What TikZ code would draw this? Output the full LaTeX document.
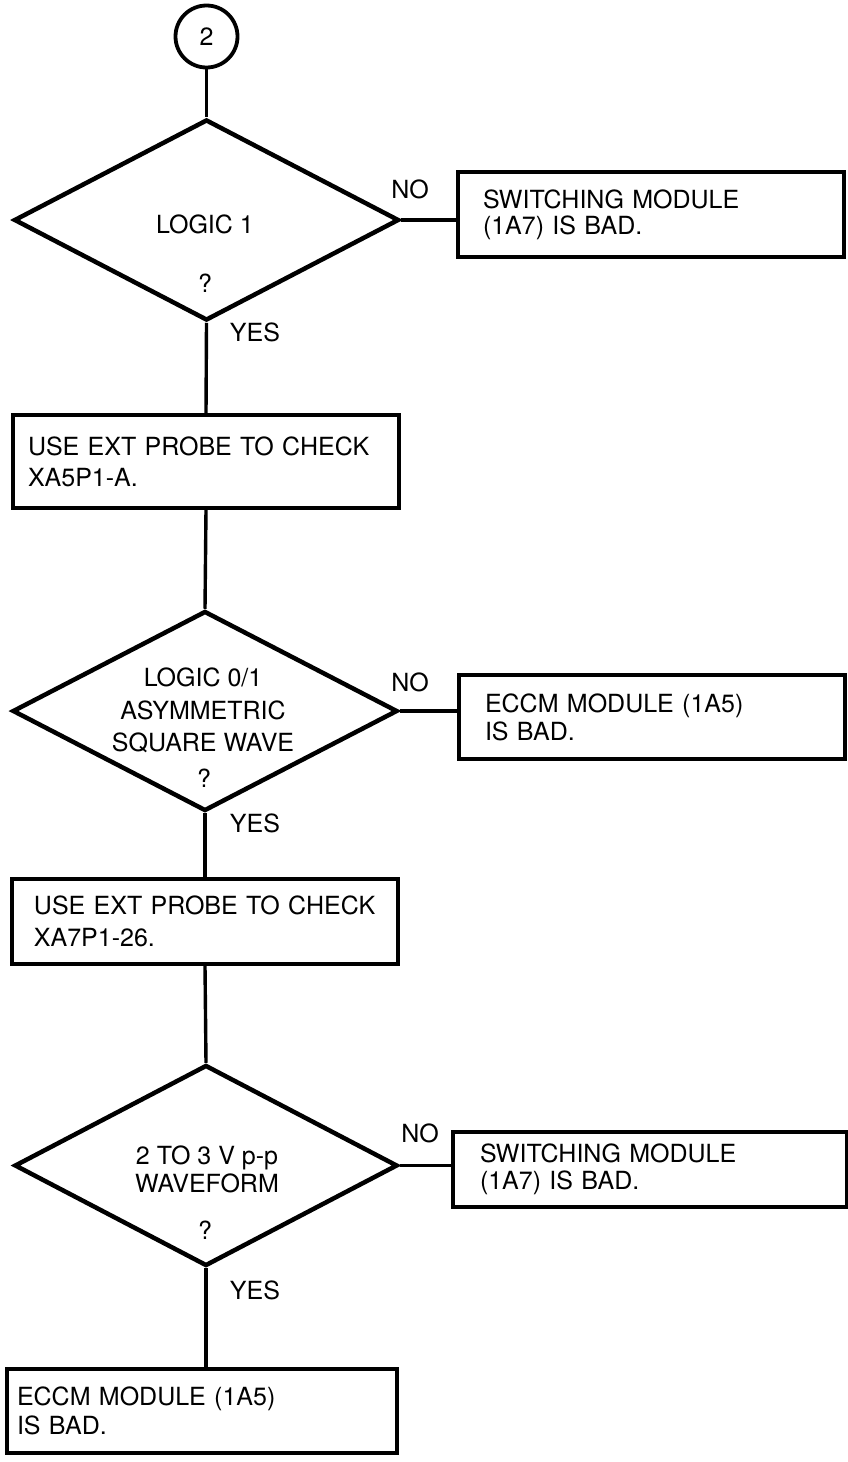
\documentclass[tikz,border=0pt]{standalone}
\usepackage{fontspec}
\setmainfont{TeX Gyre Heros}
\usetikzlibrary{shapes,positioning,calc}

\begin{document}
\begin{tikzpicture}[x=1pt, y=-1pt,
    every node/.style={font=\fontsize{25}{30}\selectfont},
    connector/.style={draw, circle, line width=3.8pt, minimum size=62pt, inner sep=0pt},
    decision/.style={draw, diamond, line width=4.5pt, inner sep=0pt, minimum width=385pt, minimum height=201pt},
    result/.style={draw, rectangle, line width=3.4pt, align=left, inner ysep=0pt, font=\fontsize{25}{#1}\selectfont},
    lbl/.style={inner sep=0pt, text height=18pt, text depth=0pt},
    multi/.style={inner sep=0pt, align=center, font=\fontsize{25}{#1}\selectfont},
    link/.style={line width=3.4pt}]
    \useasboundingbox (0,0) rectangle (848,1462);

    % Entry point
    \node[connector] (c2) at (206.5,36.5) {};
    \node[lbl] (c2txt) at (206.5,36) {2};

    % First test
    \node[decision] (d1) at (206.5,220) {};
    \node[lbl] (d1txt) at (205,224) {LOGIC 1};
    \node[lbl] (d1q) at (205,283) {?};
    \node[result=26, text width=336pt, inner xsep=25pt, minimum height=85pt] (sw1) at (651,214.5) {SWITCHING MODULE\\(1A7) IS BAD.};
    \node[result=31, text width=356pt, inner xsep=15pt, minimum height=93pt] (probe1) at (206,461.5) {USE EXT PROBE TO CHECK\\XA5P1-A.};

    % Second test
    \node[decision, minimum height=200pt] (d2) at (205,711) {};
    \node[multi=32.5] (d2txt) at (203,710.5) {LOGIC 0/1\\ASYMMETRIC\\SQUARE WAVE};
    \node[lbl] (d2q) at (204,778) {?};
    \node[result=28, text width=334pt, inner xsep=26pt, minimum height=84pt] (eccm1) at (652,717) {ECCM MODULE (1A5)\\IS BAD.};
    \node[result=32, text width=342pt, inner xsep=22pt, minimum height=85pt] (probe2) at (205,921.5) {USE EXT PROBE TO CHECK\\XA7P1-26.};

    % Third test
    \node[decision, minimum width=383pt] (d3) at (206,1165.5) {};
    \node[multi=28] (d3txt) at (207,1169) {2 TO 3 V p-p\\WAVEFORM};
    \node[lbl] (d3q) at (205,1230) {?};
    \node[result=27, text width=340pt, inner xsep=27pt, minimum height=75pt] (sw2) at (650,1169.5) {SWITCHING MODULE\\(1A7) IS BAD.};
    \node[result=29, text width=370pt, inner xsep=10pt, minimum height=84pt] (eccm2) at (202,1411) {ECCM MODULE (1A5)\\IS BAD.};

    % Branch labels
    \node[lbl] (no1) at (410,189) {NO};
    \node[lbl] (yes1) at (255,332) {YES};
    \node[lbl] (no2) at (410,682) {NO};
    \node[lbl] (yes2) at (255,823) {YES};
    \node[lbl] (no3) at (420,1133) {NO};
    \node[lbl] (yes3) at (255,1290) {YES};

    % Flow lines
    \draw[link] (c2.south) -- (d1.north);
    \draw[link] (d1.east) -- (d1.east -| sw1.west);
    \draw[link] (d1.south) -- (probe1.north);
    \draw[link] (probe1.south) -- (d2.north);
    \draw[link] (d2.east) -- (d2.east -| eccm1.west);
    \draw[link] (d2.south) -- (d2.south |- probe2.north);
    \draw[link] (probe2.south) -- (d3.north);
    \draw[link] (d3.east) -- (d3.east -| sw2.west);
    \draw[link] (d3.south) -- (d3.south |- eccm2.north);
\end{tikzpicture}
\end{document}
